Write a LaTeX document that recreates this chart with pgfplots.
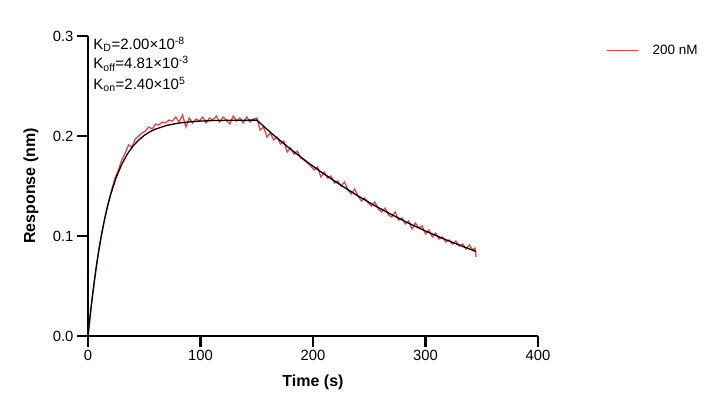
\documentclass[border=0pt]{standalone}
\usepackage{pgfplots}
\pgfplotsset{compat=1.18}
\usepackage{fontspec}
\setmainfont{Liberation Sans}
\definecolor{datared}{RGB}{224,72,72}
\begin{document}
\begin{tikzpicture}[x=1pt,y=1pt]
\useasboundingbox (-88,-76) rectangle (631,336);
\begin{axis}[
  at={(0,0)}, anchor=south west,
  scale only axis, width=450pt, height=300pt,
  xmin=0, xmax=400, ymin=0, ymax=0.3,
  axis lines=left, axis line style={-, line width=2.8pt},
  xtick={0,100,200,300,400}, ytick={0,0.1,0.2,0.3},
  tick align=outside, major tick length=11pt,
  every tick/.style={line width=2.8pt, black},
  minor tick num=0,
  /pgf/number format/assume math mode=true,
  yticklabel style={/pgf/number format/fixed, /pgf/number format/fixed zerofill, /pgf/number format/precision=1},
  scaled y ticks=false,
  tick label style={font=\fontsize{14.8}{17}\selectfont},
  xlabel={\textbf{Time (s)}}, ylabel={\textbf{Response (nm)}},
  label style={font=\fontsize{16}{18}\selectfont},
  xlabel style={at={(axis description cs:0.5,0)}, anchor=center, yshift=-46pt},
  ylabel style={at={(axis description cs:0,0.5)}, anchor=center, yshift=57pt},
  clip=false,
  legend style={at={(1.1511,0.952)}, anchor=west, draw=none, fill=none, inner sep=0pt,
    font=\fontsize{13.5}{15}\selectfont,
    /tikz/every odd column/.append style={column sep=12pt}},
  legend cell align=left,
  legend image code/.code={\draw[#1] (0pt,0pt) -- (31pt,0pt);},
]
\addplot[datared, line width=1.3pt] coordinates {
(0,0.000) (3,0.030) (6,0.057) (9,0.081) (12,0.101) (15,0.118) (18,0.133) (21,0.146)
(24,0.158) (27,0.166) (30,0.176) (33,0.183) (36,0.191) (39,0.189) (42,0.197) (45,0.200)
(48,0.203) (51,0.205) (54,0.209) (57,0.207) (60,0.212) (63,0.211) (66,0.214) (69,0.213)
(72,0.216) (75,0.215) (78,0.219) (81,0.214) (84,0.221) (87,0.209) (90,0.218) (93,0.213)
(96,0.217) (99,0.215) (102,0.219) (105,0.213) (108,0.218) (111,0.216) (114,0.220) (117,0.214)
(120,0.219) (123,0.216) (126,0.212) (129,0.220) (132,0.215) (135,0.218) (138,0.213) (141,0.219)
(144,0.214) (147,0.217) (150,0.218) (153,0.206) (156,0.209) (159,0.199) (162,0.203) (165,0.196)
(168,0.199) (171,0.192) (174,0.195) (177,0.184) (180,0.188) (183,0.182) (186,0.185) (189,0.178)
(192,0.176) (195,0.173) (198,0.170) (201,0.166) (204,0.169) (207,0.159) (210,0.164) (213,0.158)
(216,0.160) (219,0.153) (222,0.155) (225,0.150) (228,0.154) (231,0.146) (234,0.142) (237,0.147)
(240,0.140) (243,0.135) (246,0.138) (249,0.133) (252,0.130) (255,0.134) (258,0.127) (261,0.124)
(264,0.128) (267,0.121) (270,0.119) (273,0.124) (276,0.116) (279,0.118) (282,0.112) (285,0.115)
(288,0.107) (291,0.113) (294,0.108) (297,0.110) (300,0.102) (303,0.106) (306,0.099) (309,0.103)
(312,0.097) (315,0.099) (318,0.094) (321,0.096) (324,0.092) (327,0.095) (330,0.090) (333,0.092)
(336,0.087) (339,0.091) (342,0.086) (344,0.088) (345,0.079)
};
\addlegendentry{200 nM}
\addplot[black, line width=1.3pt, forget plot] coordinates {
(0,0) (2.5,0.0267) (5,0.0501) (7.5,0.0706) (10,0.0886) (12.5,0.1043) (15,0.1182) (17.5,0.1303)
(20,0.1409) (25,0.1583) (30,0.1717) (35,0.1820) (40,0.1899) (45,0.1959) (50,0.2006)
(55,0.2042) (60,0.2069) (70,0.2106) (80,0.2128) (90,0.2141) (100,0.2149) (110,0.2154)
(120,0.2156) (135,0.2158) (150,0.2159)
(165,0.2009) (180,0.1869) (195,0.1739) (210,0.1618) (225,0.1506) (240,0.1401) (255,0.1303)
(270,0.1213) (285,0.1128) (300,0.1050) (315,0.0977) (330,0.0909) (345,0.0845)
};
\node[anchor=base west, inner sep=0pt, font=\fontsize{15}{17}\selectfont] at (axis cs:4.7,0.2867) {K\textsubscript{D}=2.00×10\textsuperscript{-8}};
\node[anchor=base west, inner sep=0pt, font=\fontsize{15}{17}\selectfont] at (axis cs:4.7,0.2673) {K\textsubscript{off}=4.81×10\textsuperscript{-3}};
\node[anchor=base west, inner sep=0pt, font=\fontsize{15}{17}\selectfont] at (axis cs:4.7,0.2467) {K\textsubscript{on}=2.40×10\textsuperscript{5}};
\end{axis}
\end{tikzpicture}
\end{document}
